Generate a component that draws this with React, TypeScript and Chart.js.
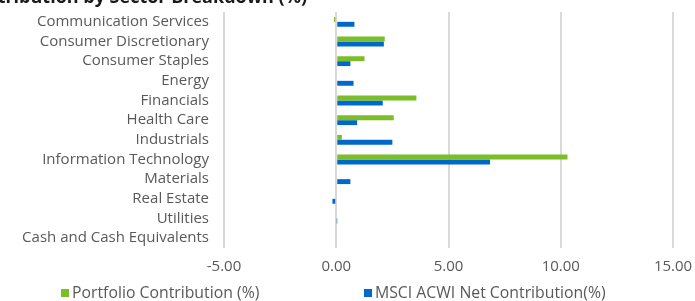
import React, { useEffect, useRef } from "react";
import { Chart, registerables } from "chart.js";

Chart.register(...registerables);

const categories = [
  "Communication Services",
  "Consumer Discretionary",
  "Consumer Staples",
  "Energy",
  "Financials",
  "Health Care",
  "Industrials",
  "Information Technology",
  "Materials",
  "Real Estate",
  "Utilities",
  "Cash and Cash Equivalents",
];

const portfolioContribution = [-0.1, 2.16, 1.26, 0, 3.57, 2.56, 0.25, 10.3, 0, 0, 0, 0];
const msciContribution = [0.81, 2.12, 0.63, 0.77, 2.07, 0.93, 2.5, 6.85, 0.63, -0.17, 0.02, 0];

const seriesLabels = ["Portfolio Contribution (%)", "MSCI ACWI Net Contribution(%)"];
const seriesColors = ["#7BBE27", "#0068C8"];
const titleText = "Contribution by Sector Breakdown (%)";

const FONT = "'Open Sans', Lato, sans-serif";
const TEXT = "#595959";

const overlayPlugin = {
  id: "overlay",
  afterDraw(chart: any) {
    const ctx = chart.ctx;
    ctx.save();
    // clipped title at the top
    ctx.font = `bold 18px ${FONT}`;
    ctx.fillStyle = "#1a1a1a";
    ctx.textAlign = "right";
    ctx.textBaseline = "alphabetic";
    ctx.fillText(titleText, 307, 3);
    // legend
    const items = chart.data.datasets;
    const xs = [61, 364];
    ctx.font = `15.8px ${FONT}`;
    ctx.textAlign = "left";
    ctx.textBaseline = "middle";
    items.forEach((ds: any, i: number) => {
      ctx.fillStyle = ds.backgroundColor;
      ctx.fillRect(xs[i], 289, 8, 8);
      ctx.fillStyle = TEXT;
      ctx.fillText(ds.label, xs[i] + 11, 293.5);
    });
    ctx.restore();
  },
};

export default function App() {
  const ref = useRef<HTMLCanvasElement | null>(null);
  useEffect(() => {
    document.body.style.margin = "0";
    const chart = new Chart(ref.current!, {
      type: "bar",
      data: {
        labels: categories,
        datasets: [
          {
            label: seriesLabels[0],
            data: portfolioContribution,
            backgroundColor: seriesColors[0],
            categoryPercentage: 0.5,
            barPercentage: 1,
          },
          {
            label: seriesLabels[1],
            data: msciContribution,
            backgroundColor: seriesColors[1],
            categoryPercentage: 0.5,
            barPercentage: 1,
          },
        ],
      },
      options: {
        indexAxis: "y",
        animation: false,
        responsive: false,
        maintainAspectRatio: false,
        layout: { padding: { top: 12, right: 22, left: 0, bottom: 0 } },
        plugins: {
          legend: { display: false },
          title: { display: false },
          tooltip: { enabled: false },
        },
        scales: {
          x: {
            min: -5,
            max: 15,
            ticks: {
              stepSize: 5,
              color: TEXT,
              font: { family: FONT, size: 15 },
              padding: 10,
              maxRotation: 0,
              callback: (v: any) => Number(v).toFixed(2),
            },
            grid: { color: "#D9D9D9", lineWidth: 2, drawTicks: false },
            border: { display: false },
            afterFit: (s: any) => {
              s.height = 53;
              s.paddingLeft = 0;
              s.paddingRight = 0;
            },
          },
          y: {
            ticks: {
              color: TEXT,
              font: { family: FONT, size: 15 },
              padding: 15,
              autoSkip: false,
            },
            grid: { display: false, drawTicks: false },
            border: { display: false },
            afterFit: (s: any) => {
              s.width = 224;
              s.paddingTop = 0;
              s.paddingBottom = 0;
            },
          },
        },
      },
      plugins: [overlayPlugin],
    } as any);
    return () => chart.destroy();
  }, []);
  return (
    <div style={{ width: 695, height: 301 }}>
      <canvas ref={ref} width={695} height={301} style={{ display: "block" }} />
    </div>
  );
}
